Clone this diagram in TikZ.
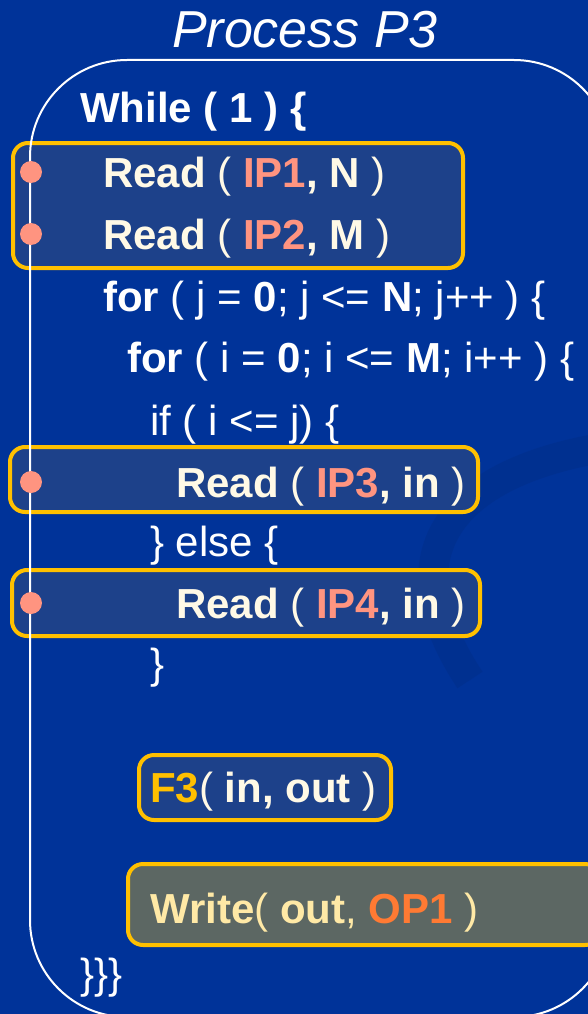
\documentclass[tikz,border=0pt]{standalone}
\usepackage{fontspec}
\setmainfont{Liberation Sans}
\usetikzlibrary{positioning}
\definecolor{slide}{HTML}{003399}
\definecolor{boxfill}{HTML}{1D418A}
\definecolor{writefill}{HTML}{5C6763}
\definecolor{gold}{HTML}{FFC000}
\definecolor{ipred}{HTML}{FF9480}
\definecolor{cream}{HTML}{FFF9E6}
\definecolor{pale}{HTML}{FFE9A6}
\definecolor{oport}{HTML}{FF7A33}
\newcommand{\ip}[1]{{\color{ipred}\bfseries #1}}
\newcommand{\rg}[1]{{\mdseries #1}}
\tikzset {
  % one line of the process code
  code/.style = {
    anchor = base west,
    inner sep = 0,
    text = white,
    font = \fontsize{42}{50}\selectfont\bfseries
  },
  % code inside a highlighted box
  incode/.style = {
    code,
    text = cream
  },
  plain/.style = {
    code,
    font = \fontsize{42}{50}\selectfont
  },
  title/.style = {
    anchor = base,
    inner sep = 0,
    text = white,
    font = \fontsize{52}{60}\selectfont\itshape
  },
  frame/.style = {
    draw = white,
    line width = 2pt,
    rounded corners = 97pt
  },
  % highlight box round a read
  rbox/.style = {
    draw = gold,
    fill = boxfill,
    line width = 4pt,
    rounded corners = 15pt,
    rectangle,
    inner sep = 0
  },
  wbox/.style = {
    rbox,
    fill = writefill
  },
  % input port marker
  port/.style = {
    circle,
    fill = ipred,
    minimum size = 22pt,
    inner sep = 0
  },
  swoosh/.style = {
    draw = slide!70!black,
    opacity = .18,
    line width = 30pt
  }
}
\begin{document}
\begin{tikzpicture}[x=1pt, y=-1pt]
  \clip (0,0) rectangle (588,1014);
  \fill[slide] (0,0) rectangle (588,1014);
  \draw[swoosh] (620,445) .. controls (440,470) and (390,560) .. (470,680);

  \node[title] (title) at (305,48) {Process P3};

  % highlight boxes
  \node[rbox, minimum width=450pt, minimum height=125pt] (box-ip12) at (238,205.5) {};
  \node[rbox, minimum width=468pt, minimum height=65pt] (box-ip3) at (244,479.5) {};
  \node[rbox, minimum width=468pt, minimum height=66pt] (box-ip4) at (246,603) {};
  \node[rbox, minimum width=252pt, minimum height=65pt] (box-f3) at (265,787.5) {};
  \node[wbox, minimum width=472pt, minimum height=81pt] (box-op1) at (364,904.5) {};

  \draw[frame] (30,1017) -- (30,60) -- (611,60) -- (611,1017) -- cycle;

  \node[port] (ip1) at (31,172) {};
  \node[port] (ip2) at (31,234) {};
  \node[port] (ip3) at (31,482) {};
  \node[port] (ip4) at (31,603) {};

  \node[code] (while) at (80,123) {While ( 1 ) \{};
  \node[incode] (read1) at (103,187) {Read \rg{(} \ip{IP1}, N \rg{)}};
  \node[incode] (read2) at (103,249) {Read \rg{(} \ip{IP2}, M \rg{)}};
  \node[code] (for-j) at (103,311) {for \rg{( j = }0\rg{; j <= }N\rg{; j++ ) \{}};
  \node[code] (for-i) at (127,372) {for \rg{( i = }0\rg{; i <= }M\rg{; i++ ) \{}};
  \node[plain] (if) at (150,435) {if ( i <= j) \{};
  \node[incode] (read3) at (176,497) {Read \rg{(} \ip{IP3}, in \rg{)}};
  \node[plain] (else) at (150,556) {\} else \{};
  \node[incode] (read4) at (176,618) {Read \rg{(} \ip{IP4}, in \rg{)}};
  \node[plain] (end-if) at (150,678) {\}};
  \node[incode] (f3) at (150,802) {{\color{gold}F3}\rg{(} in, out \rg{)}};
  \node[code, text=pale] (write) at (150,923) {Write\rg{(} out\rg{,} {\color{oport}OP1} \rg{)}};
  \node[plain] (end-while) at (80,988) {\}\}\}};
\end{tikzpicture}
\end{document}
